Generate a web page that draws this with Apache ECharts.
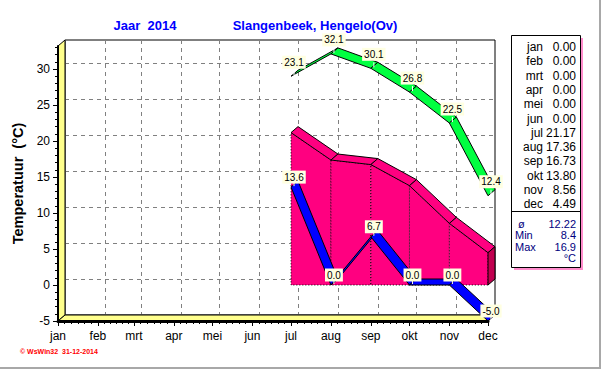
<!DOCTYPE html>
<html><head><meta charset="utf-8">
<script src="https://cdn.jsdelivr.net/npm/echarts@6/dist/echarts.min.js"></script>
<style>html,body{margin:0;padding:0;background:#fff;}#c{width:603px;height:370px;}</style>
</head><body><div id="c"></div>
<script>
// ---- data ----
const months = ['jan','feb','mrt','apr','mei','jun','jul','aug','sep','okt','nov','dec'];
const monthDay = [0,31,59,90,120,151,181,212,243,273,304,334];
const meanTemp = [0.00,0.00,0.00,0.00,0.00,0.00,21.17,17.36,16.73,13.80,8.56,4.49];
const areaTemp = [null,null,null,null,null,null,21.17,17.36,16.73,13.80,8.56,4.49];
const maxTemp  = [null,null,null,null,null,null,29.0,32.1,30.1,26.8,22.5,12.4];
const maxLabel = [null,null,null,null,null,null,23.1,32.1,30.1,26.8,22.5,12.4];
const minTemp  = [null,null,null,null,null,null,13.6,0.0,6.7,0.0,0.0,-5.0];
const summaryNames = ['ø','Min','Max'];
const summaryValues = ['12.22','8.4','16.9'];
const yTicks = [-5,0,5,10,15,20,25,30];

// ---- layout / style ----
const Y_MIN = -5, Y_MAX = 33.2, X_MIN = 0, X_MAX = 334;
const DX = 7, DY = -6;
const FONT = '"Liberation Sans", Arial, sans-serif';
const PINK = '#ff0080', GREEN = '#00ff40', BLUE = '#0000ff', WALL = '#ffff8c';

function segs(vals){
  const out = [];
  for (let i = 0; i < vals.length - 1; i++)
    if (vals[i] != null && vals[i+1] != null) out.push([monthDay[i], vals[i], monthDay[i+1], vals[i+1]]);
  return out;
}
function pts(vals, labels){
  const out = [];
  vals.forEach((v,i)=>{ if (v != null) out.push([monthDay[i], v, labels[i]]); });
  return out;
}
const off = p => [p[0] + DX, p[1] + DY];

const minorX = [];
for (let i = 0; i < monthDay.length - 1; i++) {
  const a = monthDay[i], b = monthDay[i+1];
  for (let k = 1; k < 6; k++) minorX.push(a + (b - a) * k / 6);
}
const minorY = [];
for (let v = Y_MIN; v <= 33; v++) minorY.push(v);

const meanSegs = segs(areaTemp);

function ribbon(color){
  return function(params, api){
    const p0 = api.coord([api.value(0), api.value(1)]);
    const p1 = api.coord([api.value(2), api.value(3)]);
    return {type:'polygon', shape:{points:[p0, p1, off(p1), off(p0)]},
      style:{fill:color, stroke:'#000', lineWidth:1}};
  };
}
function areaItem(params, api){
  const d0 = api.value(0), v0 = api.value(1), d1 = api.value(2), v1 = api.value(3);
  const p0 = api.coord([d0, v0]), p1 = api.coord([d1, v1]);
  const b0 = api.coord([d0, 0]), b1 = api.coord([d1, 0]);
  const children = [
    {type:'polygon', shape:{points:[p0, p1, b1, b0]}, style:{fill:PINK, stroke:'#000', lineWidth:1, lineDash:[1,2]}},
    {type:'polygon', shape:{points:[p0, p1, off(p1), off(p0)]}, style:{fill:PINK, stroke:'#000', lineWidth:1}}
  ];
  if (params.dataIndex === meanSegs.length - 1)
    children.push({type:'polygon', shape:{points:[p1, off(p1), off(b1), b1]}, style:{fill:'#c0004f', stroke:'#000', lineWidth:1}});
  return {type:'group', children};
}
function labelItem(dy){
  return function(params, api){
    const p = api.coord([api.value(0), api.value(1)]);
    return {type:'group', children:[
      {type:'line', shape:{x1:p[0]+3, y1:p[1]-1, x2:p[0]+3, y2:p[1]-6}, style:{stroke:'#fff', lineWidth:1}},
      {type:'text', x:p[0]+3, y:p[1]+dy, style:{text:api.value(2).toFixed(1), fill:'#000', fontSize:10,
        fontFamily:FONT, align:'center', verticalAlign:'middle', backgroundColor:'#ffffe1', padding:[2,2,1,2]}}
    ]};
  };
}
function wallItem(params, api){
  const a = api.coord([X_MIN, Y_MAX]), b = api.coord([X_MIN, Y_MIN]), c = api.coord([X_MAX, Y_MIN]);
  return {type:'group', children:[
    {type:'polygon', shape:{points:[a, off(a), off(b), b]}, style:{fill:WALL, stroke:'#000', lineWidth:1}},
    {type:'polygon', shape:{points:[b, off(b), off(c), c]}, style:{fill:WALL, stroke:'#000', lineWidth:1}}
  ]};
}

// legend table
const table = [];
table.push({type:'rect', shape:{x:514, y:38, width:69, height:232}, style:{fill:'#ff8ccc'}});
table.push({type:'rect', shape:{x:511.5, y:35.5, width:69, height:232}, style:{fill:'#fff', stroke:'#000', lineWidth:1}});
table.push({type:'line', shape:{x1:511.5, y1:211.5, x2:580.5, y2:211.5}, style:{stroke:'#000', lineWidth:1}});
months.forEach((m,i)=>{
  const y = 47 + i * 14.3;
  table.push({type:'text', x:543, y:y, style:{text:m, fill:'#000', fontSize:12, fontFamily:FONT, align:'right', verticalAlign:'middle'}});
  table.push({type:'text', x:576, y:y, style:{text:meanTemp[i].toFixed(2), fill:'#000', fontSize:12, fontFamily:FONT, align:'right', verticalAlign:'middle'}});
});
const sumY = [223.5, 235, 246.5];
summaryNames.forEach((n,i)=>{
  table.push({type:'text', x: i === 0 ? 518 : 515, y:sumY[i], style:{text:n, fill:'#000080', fontSize:11, fontFamily:FONT, align:'left', verticalAlign:'middle'}});
  table.push({type:'text', x:576, y:sumY[i], style:{text:summaryValues[i], fill:'#000080', fontSize:11, fontFamily:FONT, align:'right', verticalAlign:'middle'}});
});
table.push({type:'text', x:576, y:258, style:{text:'°C', fill:'#000080', fontSize:11, fontFamily:FONT, align:'right', verticalAlign:'middle'}});

const chart = echarts.init(document.getElementById('c'), null, {renderer:'svg', width:603, height:370});
chart.setOption({
  animation:false,
  backgroundColor:'#fff',
  grid:[
    {left:58, top:46, width:430, height:275, show:false},
    {left:65, top:40, width:430, height:275, show:true, borderColor:'#000', borderWidth:1, backgroundColor:'transparent'}
  ],
  xAxis:[
    {gridIndex:0, type:'value', min:X_MIN, max:X_MAX, position:'bottom', z:3,
     axisLine:{show:true, onZero:false, lineStyle:{color:'#000', width:3}},
     axisTick:{show:true, customValues:monthDay, length:5, lineStyle:{color:'#000'}},
     axisLabel:{show:true, customValues:monthDay, formatter:v=>months[monthDay.indexOf(v)], color:'#000', fontSize:12, fontFamily:FONT, margin:9},
     splitLine:{show:false}},
    {gridIndex:1, type:'value', min:X_MIN, max:X_MAX, position:'bottom',
     axisLine:{show:false, onZero:false}, axisTick:{show:false, customValues:monthDay}, axisLabel:{show:false},
     splitLine:{show:true, lineStyle:{color:'#808080', width:1, type:[4,4]}}},
    {gridIndex:0, type:'value', min:X_MIN, max:X_MAX, position:'bottom', z:3,
     axisLine:{show:false, onZero:false}, axisTick:{show:true, customValues:minorX, length:3, lineStyle:{color:'#000'}},
     axisLabel:{show:false}, splitLine:{show:false}}
  ],
  yAxis:[
    {gridIndex:0, type:'value', min:Y_MIN, max:Y_MAX, position:'left', z:3,
     axisLine:{show:true, onZero:false, lineStyle:{color:'#000', width:2}},
     axisTick:{show:true, customValues:yTicks, length:5, lineStyle:{color:'#000'}},
     axisLabel:{show:true, customValues:yTicks, color:'#000', fontSize:12, fontFamily:FONT, margin:8},
     splitLine:{show:false},
     name:'Temperatuur  (°C)', nameLocation:'middle', nameGap:28, nameRotate:90,
     nameTextStyle:{color:'#000', fontSize:14.5, fontWeight:'bold', fontFamily:FONT}},
    {gridIndex:1, type:'value', min:Y_MIN, max:Y_MAX, position:'left',
     axisLine:{show:false, onZero:false}, axisTick:{show:false, customValues:yTicks}, axisLabel:{show:false},
     splitLine:{show:true, lineStyle:{color:'#808080', width:1, type:[4,4]}}},
    {gridIndex:0, type:'value', min:Y_MIN, max:Y_MAX, position:'left', z:3,
     axisLine:{show:false, onZero:false}, axisTick:{show:true, customValues:minorY, length:3, lineStyle:{color:'#000'}},
     axisLabel:{show:false}, splitLine:{show:false}}
  ],
  series:[
    {type:'custom', name:'wall', xAxisIndex:0, yAxisIndex:0, z:1, clip:false, silent:true,
     renderItem:wallItem, data:[[X_MIN, Y_MIN]], encode:{x:0, y:1}},
    {type:'custom', name:'gemiddeld', xAxisIndex:0, yAxisIndex:0, z:4, clip:false,
     renderItem:areaItem, data:meanSegs, encode:{x:[0,2], y:[1,3]}},
    {type:'custom', name:'minimum', xAxisIndex:0, yAxisIndex:0, z:5, clip:false,
     renderItem:ribbon(BLUE), data:segs(minTemp), encode:{x:[0,2], y:[1,3]}},
    {type:'custom', name:'maximum', xAxisIndex:0, yAxisIndex:0, z:6, clip:false,
     renderItem:ribbon(GREEN), data:segs(maxTemp), encode:{x:[0,2], y:[1,3]}},
    {type:'custom', name:'minLabels', xAxisIndex:0, yAxisIndex:0, z:7, clip:false,
     renderItem:labelItem(-10), data:pts(minTemp, minTemp), encode:{x:0, y:1}},
    {type:'custom', name:'maxLabels', xAxisIndex:0, yAxisIndex:0, z:7, clip:false,
     renderItem:labelItem(-14), data:pts(maxTemp, maxLabel), encode:{x:0, y:1}}
  ],
  graphic:[
    {type:'text', x:145, y:25, z:10, style:{text:'Jaar  2014', fill:'#0000ff', fontSize:13, fontWeight:'bold', fontFamily:FONT, align:'center', verticalAlign:'middle'}},
    {type:'text', x:315, y:25, z:10, style:{text:'Slangenbeek, Hengelo(Ov)', fill:'#0000ff', fontSize:13, fontWeight:'bold', fontFamily:FONT, align:'center', verticalAlign:'middle'}},
    {type:'text', x:20, y:351, z:10, style:{text:'© WsWin32  31-12-2014', fill:'#ff0000', fontSize:7, fontWeight:'bold', fontFamily:FONT, align:'left', verticalAlign:'middle'}},
    {type:'line', z:10, shape:{x1:0, y1:368, x2:601, y2:368}, style:{stroke:'#a8a8a8', lineWidth:2}},
    {type:'line', z:10, shape:{x1:600, y1:0, x2:600, y2:369}, style:{stroke:'#a8a8a8', lineWidth:2}},
    {type:'group', z:10, children:table}
  ]
});
</script></body></html>
